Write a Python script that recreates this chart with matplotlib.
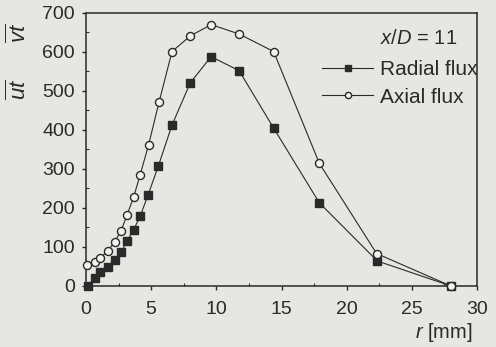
import matplotlib
matplotlib.use("Agg")
import matplotlib.pyplot as plt
from matplotlib.ticker import MultipleLocator
from matplotlib.lines import Line2D

plt.rcParams['font.family'] = ['Liberation Sans', 'DejaVu Sans']
plt.rcParams['mathtext.fontset'] = 'custom'
plt.rcParams['mathtext.it'] = 'Liberation Sans:italic'
plt.rcParams['mathtext.rm'] = 'Liberation Sans'

# data (r in mm)
r_axial = [0.1, 0.7, 1.1, 1.65, 2.2, 2.7, 3.15, 3.65, 4.15, 4.8, 5.6, 6.6, 8.0, 9.6, 11.75, 14.4, 17.9, 22.3, 28.0]
axial = [55, 61, 72, 89, 113, 142, 182, 227, 284, 361, 470, 600, 640, 669, 645, 600, 314, 83, 0]
r_radial = [0.15, 0.7, 1.1, 1.65, 2.2, 2.7, 3.15, 3.65, 4.15, 4.75, 5.55, 6.6, 8.0, 9.6, 11.75, 14.4, 17.9, 22.35, 28.0]
radial = [0, 21, 36, 49, 66, 87, 115, 144, 178, 232, 307, 412, 520, 587, 551, 404, 213, 64, 0]

xticks = [0, 5, 10, 15, 20, 25, 30]
yticks = [0, 100, 200, 300, 400, 500, 600, 700]

bg = '#e6e6e3'
ink = '#2a2a2a'

W, H = 496, 347
fig = plt.figure(figsize=(W/100, H/100), dpi=100, facecolor=bg)
ax = fig.add_axes([86/W, 1-286/H, (477-86)/W, (286-12.5)/H])
ax.set_facecolor(bg)

ax.plot(r_radial, radial, '-', color=ink, lw=0.8, marker='s', ms=5.3,
        mfc=ink, mec=ink, clip_on=False, zorder=3)
ax.plot(r_axial, axial, '-', color=ink, lw=0.8, marker='o', ms=5.8,
        mfc='#f2f2f0', mec=ink, mew=1.0, clip_on=False, zorder=4)

ax.set_xlim(0, 30)
ax.set_ylim(0, 700)
ax.set_xticks(xticks)
ax.set_yticks(yticks)
ax.xaxis.set_minor_locator(MultipleLocator(2.5))
ax.yaxis.set_minor_locator(MultipleLocator(50))
ax.tick_params(which='major', direction='out', length=3, width=1, colors=ink,
               labelsize=14)
ax.tick_params(axis='y', which='major', pad=5)
ax.tick_params(axis='x', which='major', pad=8)
ax.tick_params(which='minor', direction='in', length=2.5, width=0.8, colors=ink)
for s in ax.spines.values():
    s.set_color(ink)
    s.set_linewidth(1.1)

# y label pieces (rotated)
fig.text(7/W, 1-33/H, r'$\overline{vt}$', rotation=90, ha='left', va='center',
         fontsize=16, color=ink)
fig.text(7/W, 1-89/H, r'$\overline{ut}$', rotation=90, ha='left', va='center',
         fontsize=16, color=ink)
# x label
fig.text(473/W, 1-333/H, r'$r$ [mm]', ha='right', va='center', fontsize=14.5, color=ink)

# annotation and legend
fig.text(380/W, 1-39/H, r'$x/D$ = 11', ha='left', va='center', fontsize=14.5, color=ink)
handles = [Line2D([], [], color=ink, lw=0.8, marker='s', ms=4, mfc=ink, mec=ink),
           Line2D([], [], color=ink, lw=0.8, marker='o', ms=4.5, mfc='#f2f2f0', mec=ink)]
leg = ax.legend(handles, ['Radial flux', 'Axial flux'], loc='upper left',
                bbox_to_anchor=(322/W, 1-60/H), bbox_transform=fig.transFigure,
                frameon=False, fontsize=15, handlelength=2.45, handletextpad=0.33,
                labelspacing=0.42, borderaxespad=0, borderpad=0, labelcolor=ink)

fig.savefig('out.png', dpi=100, facecolor=bg)
